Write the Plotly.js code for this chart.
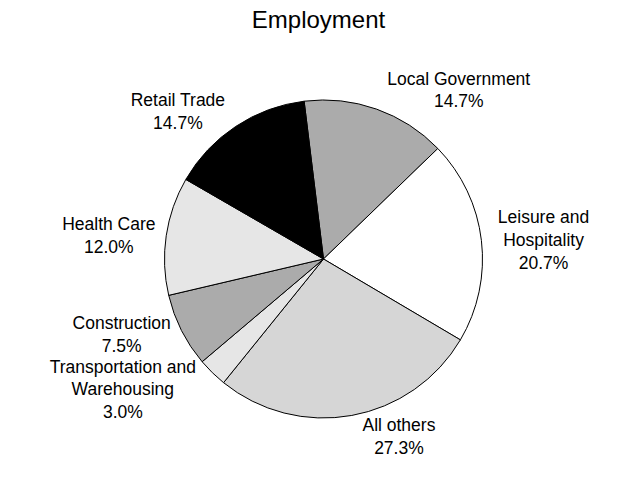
<!DOCTYPE html>
<html>
<head>
<meta charset="utf-8">
<script src="https://cdn.plot.ly/plotly-3.0.1.min.js"></script>
<style>html,body{margin:0;padding:0;background:#fff;}#chart{width:637px;height:488px;}</style>
</head>
<body>
<div id="chart"></div>
<script>
var categories = ["Local Government", "Leisure and<br>Hospitality", "All others", "Transportation and<br>Warehousing", "Construction", "Health Care", "Retail Trade"];
var shares = [14.7, 20.7, 27.3, 3.0, 7.5, 12.0, 14.7];
var sliceColors = ["#ababab", "#ffffff", "#d6d6d6", "#e6e6e6", "#ababab", "#e6e6e6", "#000000"];

Plotly.newPlot("chart", [{
  type: "pie",
  labels: categories,
  values: shares,
  sort: false,
  direction: "clockwise",
  rotation: -7,
  marker: {colors: sliceColors, line: {color: "#000000", width: 1}},
  texttemplate: "%{label}<br>%{value:.1f}%",
  textposition: "outside",
  textfont: {family: "Liberation Sans, Arial, sans-serif", size: 17.5, color: "#000000"},
  hoverinfo: "label+value",
  showlegend: false,
  domain: {x: [0, 1], y: [0, 1]}
}], {
  width: 637,
  height: 488,
  paper_bgcolor: "#ffffff",
  title: {text: "Employment", x: 0.5, xanchor: "center", y: 0.96, yanchor: "middle",
          font: {family: "Liberation Sans, Arial, sans-serif", size: 24, color: "#000000"}},
  margin: {l: 140, r: 130, t: 100, b: 70},
  showlegend: false
}, {displayModeBar: false, staticPlot: true});
</script>
</body>
</html>
